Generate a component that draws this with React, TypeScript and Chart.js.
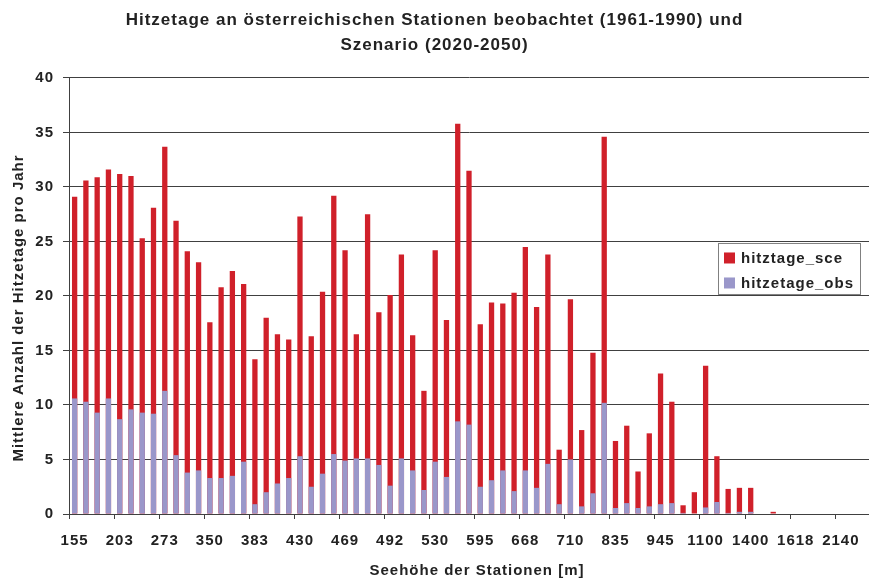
import React, { useEffect, useRef } from "react";
import { Chart, registerables } from "chart.js";

Chart.register(...registerables);

// Tick labels (station heights), shown every 4th station
const tickLabels = ["155", "203", "273", "350", "383", "430", "469", "492", "530", "595", "668", "710", "835", "945", "1100", "1400", "1618", "2140"];

// Scenario heat days (2020-2050)
const hitztageSce = [
  29.1, 30.6, 30.9, 31.6, 31.2, 31.0, 25.3, 28.1, 33.7, 26.9,
  24.1, 23.1, 17.6, 20.8, 22.3, 21.1, 14.2, 18.0, 16.5, 16.0,
  27.3, 16.3, 20.4, 29.2, 24.2, 16.5, 27.5, 18.5, 20.1, 23.8,
  16.4, 11.3, 24.2, 17.8, 35.8, 31.5, 17.4, 19.4, 19.3, 20.3,
  24.5, 19.0, 23.8, 5.9, 19.7, 7.7, 14.8, 34.6, 6.7, 8.1,
  3.9, 7.4, 12.9, 10.3, 0.8, 2.0, 13.6, 5.3, 2.3, 2.4,
  2.4, 0, 0.2, 0, 0, 0, 0, 0, 0, 0, 0,
];

// Observed heat days (1961-1990)
const hitzetageObs = [
  10.6, 10.3, 9.3, 10.6, 8.7, 9.6, 9.3, 9.2, 11.3, 5.4,
  3.8, 4.0, 3.3, 3.3, 3.5, 4.8, 0.9, 2.0, 2.8, 3.3,
  5.3, 2.5, 3.7, 5.5, 4.9, 5.1, 5.1, 4.5, 2.6, 5.1,
  4.0, 2.2, 4.8, 3.4, 8.5, 8.2, 2.5, 3.1, 4.0, 2.1,
  4.0, 2.4, 4.6, 0.9, 5.0, 0.7, 1.9, 10.2, 0.55, 1.0,
  0.55, 0.7, 0.9, 1.0, 0.1, 0, 0.6, 1.1, 0.1, 0.2,
  0.2, 0, 0, 0, 0, 0, 0, 0, 0, 0, 0,
];

const categories = hitztageSce.map((_, i) => (i % 4 === 0 ? tickLabels[i / 4] ?? "" : ""));

const titleLines = ["Hitzetage an österreichischen Stationen beobachtet (1961-1990) und", "Szenario (2020-2050)"];
const xTitle = "Seehöhe der Stationen [m]";
const yTitle = "Mittlere Anzahl der Hitzetage pro Jahr";

const RED = "#D0202A";
const BLUE = "#9A97CA";
const TEXT = "#222222";
const GRID = "#404040";
const FONT = "'Liberation Sans', Arial, sans-serif";
const SPACING = "1px";

const spacingPlugin = {
  id: "letterSpacing",
  beforeUpdate(chart: any) {
    chart.ctx.letterSpacing = SPACING;
  },
  beforeLayout(chart: any) {
    chart.ctx.letterSpacing = SPACING;
  },
  beforeDraw(chart: any) {
    chart.ctx.letterSpacing = SPACING;
  },
};

const overlayPlugin = {
  id: "overlay",
  afterDraw(chart: any) {
    const { ctx, chartArea } = chart;
    ctx.save();
    ctx.letterSpacing = SPACING;
    // axis titles
    ctx.fillStyle = TEXT;
    ctx.font = `bold 15px ${FONT}`;
    ctx.textAlign = "center";
    ctx.textBaseline = "middle";
    ctx.fillText(xTitle, (chartArea.left + chartArea.right) / 2 + 8, chartArea.bottom + 57);
    ctx.save();
    ctx.translate(19, (chartArea.top + chartArea.bottom) / 2 + 12);
    ctx.rotate(-Math.PI / 2);
    ctx.fillText(yTitle, 0, 0);
    ctx.restore();

    // legend
    const x = chartArea.right - 151;
    const y = chartArea.top + 165;
    ctx.fillStyle = "#ffffff";
    ctx.fillRect(x, y, 142, 51);
    ctx.strokeStyle = "#808080";
    ctx.lineWidth = 1;
    ctx.strokeRect(x + 0.5, y + 0.5, 142, 51);
    const items = [
      { label: "hitztage_sce", color: RED },
      { label: "hitzetage_obs", color: BLUE },
    ];
    ctx.textAlign = "left";
    ctx.font = `bold 15px ${FONT}`;
    items.forEach((it, i) => {
      const cy = y + 15 + i * 25;
      ctx.fillStyle = it.color;
      ctx.fillRect(x + 6, cy - 5.5, 11, 11);
      ctx.fillStyle = TEXT;
      ctx.fillText(it.label, x + 23, cy + 0.5);
    });
    ctx.restore();
  },
};

export default function App() {
  const ref = useRef<HTMLCanvasElement | null>(null);

  useEffect(() => {
    if (!ref.current) return;
    const chart = new Chart(ref.current, {
      type: "bar",
      data: {
        labels: categories,
        datasets: [
          {
            label: "hitzetage_obs",
            data: hitzetageObs,
            backgroundColor: BLUE,
            order: 1,
            grouped: false,
            barPercentage: 0.47,
            categoryPercentage: 1,
          } as any,
          {
            label: "hitztage_sce",
            data: hitztageSce,
            backgroundColor: RED,
            order: 2,
            grouped: false,
            barPercentage: 0.47,
            categoryPercentage: 1,
          } as any,
        ],
      },
      options: {
        responsive: false,
        animation: false,
        layout: { padding: { left: 0, right: 0, top: 0, bottom: 0 } },
        plugins: {
          legend: { display: false },
          tooltip: { enabled: false },
          title: {
            display: true,
            text: titleLines,
            color: TEXT,
            font: { family: FONT, size: 17, weight: "bold", lineHeight: 1.47 },
            padding: { top: 8, bottom: 20 },
          },
        },
        scales: {
          x: {
            offset: true,
            grid: {
              offset: true,
              drawOnChartArea: false,
              drawTicks: true,
              tickLength: 5,
              color: (c: any) => (typeof c.index === "number" && c.index % 4 === 0 ? GRID : "rgba(0,0,0,0)"),
            },
            border: { display: true, color: GRID, width: 1 },
            ticks: {
              autoSkip: false,
              maxRotation: 0,
              minRotation: 0,
              padding: 13,
              color: TEXT,
              font: { family: FONT, size: 15, weight: "bold" },
            },
            afterFit: (s: any) => {
              s.height = 66;
              s.paddingLeft = 0;
              s.paddingRight = 0;
            },
          },
          y: {
            min: 0,
            max: 40,
            ticks: {
              stepSize: 5,
              padding: 9,
              color: TEXT,
              font: { family: FONT, size: 15, weight: "bold" },
            },
            grid: { color: GRID, tickLength: 6, drawTicks: true },
            border: { display: true, color: GRID, width: 1 },
            afterFit: (s: any) => {
              s.width = 69;
            },
          },
        },
      },
      plugins: [spacingPlugin, overlayPlugin],
    });
    return () => chart.destroy();
  }, []);

  return (
    <div style={{ position: "absolute", left: 0, top: 0, width: 869, height: 580, background: "#fff" }}>
      <canvas ref={ref} width={869} height={580} style={{ display: "block" }} />
    </div>
  );
}
